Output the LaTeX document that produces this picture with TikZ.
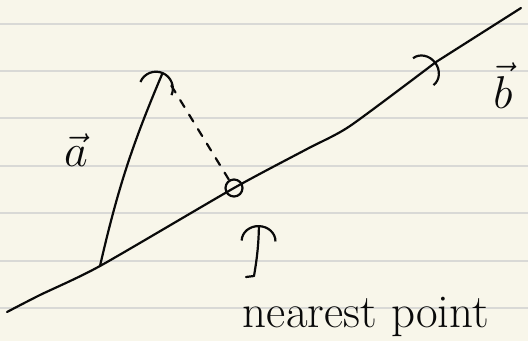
\RequirePackage{fix-cm}
\documentclass[tikz,border=0pt]{standalone}
\usepackage{amsmath}
\usepackage{xcolor}
\usepackage{tikz}
\usetikzlibrary{positioning,arrows.meta,calc}
\definecolor{PaperCream}{HTML}{F8F6EA}
\definecolor{RuleGrey}{HTML}{D9D9D6}
\definecolor{InkBlack}{HTML}{0A0A0A}

\tikzset{
  ink/.style={draw=InkBlack, line width=2.2pt, line cap=round, line join=round},
  barbtip/.style={-{Arc Barb[length=#1, width=36pt]}},
  ruling/.style={draw=RuleGrey, line width=1.5pt},
  handlabel/.style={text=InkBlack, inner sep=0pt, font=\fontsize{46}{50}\selectfont},
  handtext/.style={text=InkBlack, inner sep=0pt, font=\fontsize{47}{50}\selectfont}
}

\begin{document}
\begin{tikzpicture}[x=1pt, y=-1pt]
  \fill[PaperCream] (0,0) rectangle (528,341);
  \useasboundingbox (0,0) rectangle (528,341);
  % ruled paper
  \foreach \ry in {24,71,118,166,213,261,308}
    \draw[ruling] (0,\ry) -- (528,\ry);

  \coordinate (lineStart) at (7,312);
  \coordinate (aTail) at (100,266);
  \coordinate (nearC) at (234,188);
  \coordinate (bTip) at (436,62);
  \coordinate (lineEnd) at (521,8);
  \coordinate (aTip) at (163,72);
  \coordinate (upFoot) at (246,277);
  \coordinate (upTail) at (254,276);
  \coordinate (upTip) at (259,225);

  % the line through b
  \draw[ink, barbtip=16pt] plot[smooth, tension=0.4] coordinates
    {(lineStart) (40,295) (aTail) (nearC) (307,149) (350,126) (bTip)};
  \draw[ink] (bTip) -- (lineEnd);

  \node[draw=InkBlack, line width=2.2pt, circle, minimum size=17pt, inner sep=0pt]
    (nearpt) at (nearC) {};

  % vector a and its drop to the line
  \draw[ink, barbtip=18pt] (aTail) to[bend left=5] (aTip);
  \draw[ink, dash pattern=on 8pt off 9pt, shorten <=16pt] (aTip) -- (nearpt);

  \node[handlabel, anchor=base] (alabel) at (76,166) {$\vec{a}$};
  \node[handlabel, anchor=base] (blabel) at (503,108) {$\vec{b}$};

  \node[handtext, anchor=base] (nearlabel) at (366,327) {nearest point};
  \draw[ink, barbtip=16pt] (upFoot) -- (upTail) to[bend right=4] (upTip);
\end{tikzpicture}
\end{document}
